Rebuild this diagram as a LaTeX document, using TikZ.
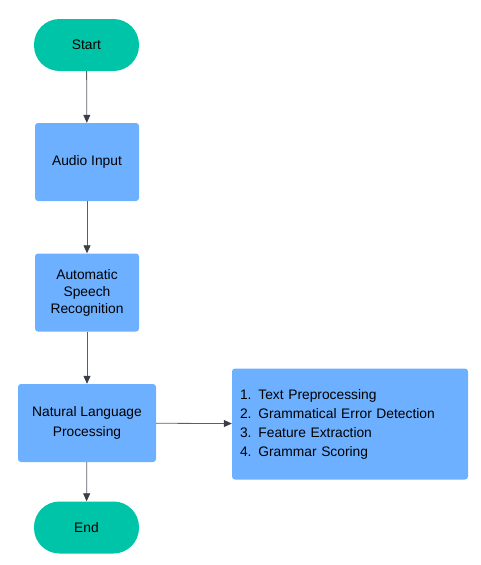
\documentclass[tikz,border=0pt]{standalone}
\usepackage{fontspec}
\setmainfont{Liberation Sans}
\usetikzlibrary{arrows.meta,positioning}
\definecolor{termteal}{HTML}{00C4A7}
\definecolor{stepblue}{HTML}{6CB0FF}
\definecolor{linkgray}{HTML}{5A5F66}
\definecolor{tipdark}{HTML}{3A3F46}
\begin{document}
\begin{tikzpicture}[x=1pt,y=-1pt,font=\fontsize{13.8}{19}\selectfont]
    \tikzstyle{terminal}=[rectangle,rounded corners=25.5pt,fill=termteal,minimum width=105pt,minimum height=52pt,inner sep=0pt]
    \tikzstyle{process}=[rectangle,rounded corners=3pt,fill=stepblue,minimum height=78pt,align=center,inner sep=0pt]
    \tikzstyle{notes}=[rectangle,rounded corners=3pt,fill=stepblue,minimum height=111pt,text width=220pt,inner xsep=8pt,align=left]
    \tikzstyle{link}=[draw=linkgray,line width=0.8pt,-{Triangle[length=8pt,width=7pt,color=tipdark]}]

    \useasboundingbox (0,0) rectangle (480,565);

    % Main flow
    \node[terminal] (start) at (86.5,45) {Start};
    \node[process,minimum width=104pt] (audio) at (87,162) {Audio Input};
    \node[process,minimum width=104pt,font=\fontsize{13.8}{17}\selectfont] (asr) at (87,292.5) {Automatic\\Speech\\Recognition};
    \node[process,minimum width=138pt,font=\fontsize{13.8}{20}\selectfont] (nlp) at (87,423) {Natural Language\\Processing};
    \node[terminal] (end) at (86.5,527.5) {End};

    % Details of the language processing step
    \node[notes] (steps) at (350,424) {1.\,\ Text Preprocessing\\2. Grammatical Error Detection\\3. Feature Extraction\\4. Grammar Scoring};

    % Connectors
    \draw[link] (start) -- (audio);
    \draw[link] (audio) -- (asr);
    \draw[link] (asr) -- (nlp);
    \draw[link] (nlp) -- (end);
    \draw[link] (nlp) -- (steps);
\end{tikzpicture}
\end{document}
